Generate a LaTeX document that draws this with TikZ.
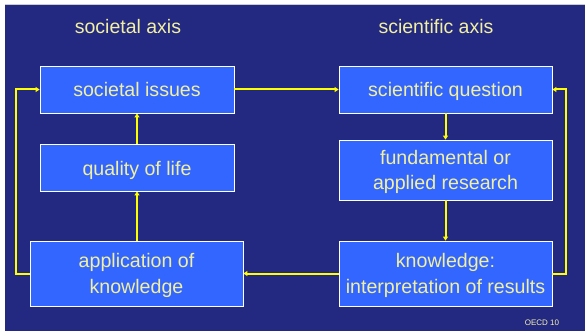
\documentclass[tikz,border=0pt]{standalone}
\usepackage{fontspec}
\setmainfont{Liberation Sans}
\usetikzlibrary{arrows.meta}
\definecolor{bgnavy}{RGB}{35,41,128}
\definecolor{boxblue}{RGB}{51,102,255}
\definecolor{txtyellow}{RGB}{242,240,160}
\definecolor{arrowyellow}{RGB}{255,255,0}
\tikzset{
  box/.style={draw=white, line width=0.8pt, fill=boxblue, text=txtyellow, inner sep=0pt,
    align=center, font=\fontsize{19.6}{25.5}\selectfont},
  oneline/.style={text height=16pt, text depth=1pt},
  twoline/.style={text depth=0pt},
  axislabel/.style={text=txtyellow, inner sep=0pt, font=\fontsize{19.5}{24}\selectfont},
  link/.style={draw=arrowyellow, line width=2pt, -{Triangle[length=4pt,width=5pt]}},
}
\begin{document}
\begin{tikzpicture}[x=1pt,y=-1pt]
\useasboundingbox (0,0) rectangle (585,331);
\fill[white] (0,0) rectangle (585,331);
\fill[bgnavy] (5,5) rectangle (585,331);
\draw[gray!40, line width=1pt] (5,4.5) -- (585,4.5);
\node[axislabel] (ta) at (128,27) {societal axis};
\node[axislabel] (tb) at (436,27) {scientific axis};
\node[box, oneline, minimum width=194pt, minimum height=47pt] (si) at (137,89.5) {societal issues};
\node[box, oneline, minimum width=194pt, minimum height=47pt] (ql) at (137,167.5) {quality of life};
\node[box, twoline, minimum width=213pt, minimum height=65pt] (ak) at (136.5,273.5) {application of\\knowledge};
\node[box, oneline, minimum width=213pt, minimum height=47pt] (sq) at (445.5,89.5) {scientific question};
\node[box, twoline, minimum width=213pt, minimum height=60pt] (fr) at (445.5,170) {fundamental or\\applied research};
\node[box, twoline, minimum width=213pt, minimum height=65pt] (kn) at (445.5,273.5) {knowledge:\\interpretation of results};
\node[text=txtyellow!85!white, inner sep=0pt, font=\fontsize{8}{9}\selectfont] (oecd) at (542,323) {OECD 10};
\draw[link] (si.east) -- (sq.west);
\draw[link] (sq.south) -- (fr.north);
\draw[link] (fr.south) -- (kn.north);
\draw[link] (kn.west) -- (ak.east);
\draw[link] (ak.north -| ql.south) -- (ql.south);
\draw[link] (ql.north) -- (si.south);
\draw[link] (ak.west) -- ++(-14,0) |- (si.west);
\draw[link] (kn.east) -- ++(14,0) |- (sq.east);
\end{tikzpicture}
\end{document}
